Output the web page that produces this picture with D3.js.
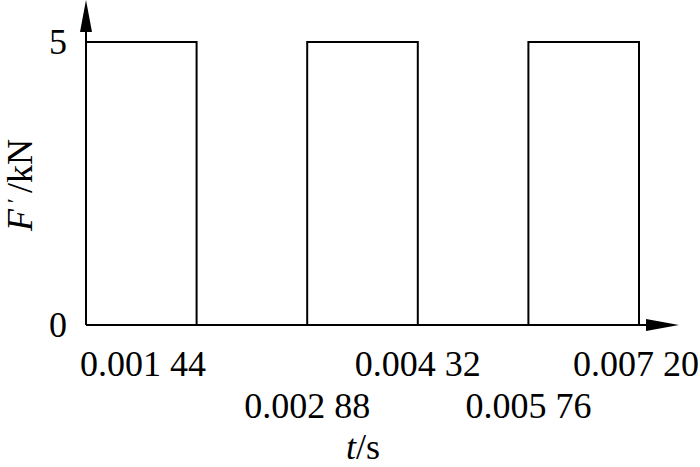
<!DOCTYPE html>
<html><head><meta charset="utf-8">
<script src="https://cdn.jsdelivr.net/npm/d3@7"></script>
<style>body{margin:0;background:#fff}svg{display:block}text{font-family:"Liberation Serif","Times New Roman",serif;fill:#000}</style>
</head><body>
<svg id="c" width="700" height="467"></svg>
<script>
const pulseStarts = [0, 0.00288, 0.00576];
const pulseEnds = [0.00144, 0.00432, 0.0072];
const amplitude = 5;
const xTickValues = [0.00144, 0.00288, 0.00432, 0.00576, 0.0072];
const xTickLabels = ["0.001 44", "0.002 88", "0.004 32", "0.005 76", "0.007 20"];
const xTickRows = [0, 1, 0, 1, 0];
const yTickValues = [0, 5];
const yTickLabels = ["0", "5"];

const svg = d3.select("#c");
const x = d3.scaleLinear().domain([0, 0.0072]).range([86, 639]);
const y = d3.scaleLinear().domain([0, 5]).range([325, 42]);
const fs = 36;

// axes
svg.append("line").attr("x1", x(0)).attr("x2", 648).attr("y1", y(0)).attr("y2", y(0))
  .attr("stroke", "#000").attr("stroke-width", 2);
svg.append("path").attr("d", `M646,${y(0)-6}L679,${y(0)}L646,${y(0)+6}Z`).attr("fill", "#000");
svg.append("line").attr("x1", x(0)).attr("x2", x(0)).attr("y1", y(0)).attr("y2", 30)
  .attr("stroke", "#000").attr("stroke-width", 2);
svg.append("path").attr("d", `M${x(0)-6},32L${x(0)},0L${x(0)+6},32Z`).attr("fill", "#000");

// pulses
const pulses = pulseStarts.map((s, i) => ({s, e: pulseEnds[i], v: amplitude}));
svg.selectAll("path.p").data(pulses).enter().append("path").attr("class", "p")
  .attr("d", d => `M${x(d.s)},${y(0)}V${y(d.v)}H${x(d.e)}V${y(0)}`)
  .attr("fill", "none").attr("stroke", "#000").attr("stroke-width", 2);

// y tick labels
svg.selectAll("text.yt").data(yTickValues).enter().append("text").attr("class", "yt")
  .attr("x", 67).attr("y", d => y(d) + 12).attr("text-anchor", "end")
  .attr("font-size", fs).text((d, i) => yTickLabels[i]);

// x tick labels
const nT = xTickValues.length;
svg.selectAll("text.xt").data(xTickValues).enter().append("text").attr("class", "xt")
  .attr("x", (d, i) => i === 0 ? x(0) - 6 : (i === nT - 1 ? 699 : x(d)))
  .attr("y", (d, i) => xTickRows[i] ? 418 : 376)
  .attr("text-anchor", (d, i) => i === 0 ? "start" : (i === nT - 1 ? "end" : "middle"))
  .attr("font-size", fs).text((d, i) => xTickLabels[i]);

// axis titles
const xt = svg.append("text").attr("x", 363).attr("y", 459).attr("text-anchor", "middle").attr("font-size", fs);
xt.append("tspan").attr("font-style", "italic").text("t");
xt.append("tspan").text("/s");

const yt = svg.append("text").attr("transform", "translate(32,185) rotate(-90)")
  .attr("text-anchor", "middle").attr("font-size", fs);
yt.append("tspan").attr("font-style", "italic").text("F");
yt.append("tspan").attr("dy", -10).attr("dx", 6).attr("font-size", 22).text("′");
yt.append("tspan").attr("dy", 10).attr("dx", 5).text("/kN");
</script>
</body></html>
